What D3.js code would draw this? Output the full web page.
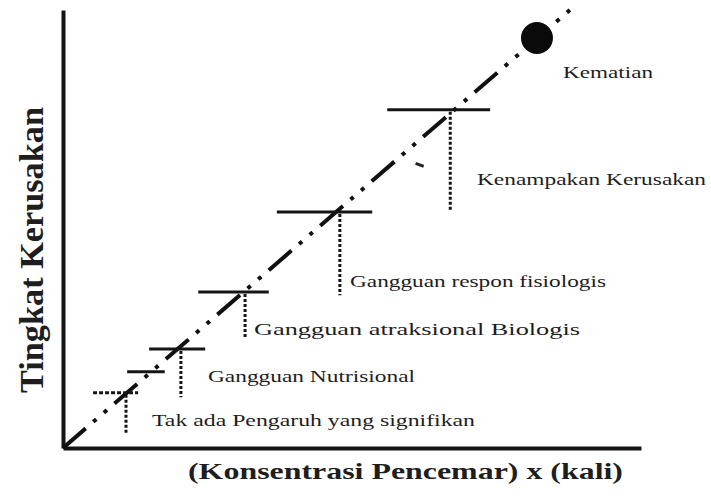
<!DOCTYPE html>
<html>
<head>
<meta charset="utf-8">
<script src="https://cdn.jsdelivr.net/npm/d3@7"></script>
<style>
  body { margin: 0; background: #fff; }
  text { font-family: "Liberation Serif", "Times New Roman", serif; fill: #1e1e1e; }
</style>
</head>
<body>
<div id="chart"></div>
<script>
// tahap respon terhadap konsentrasi pencemar (satuan relatif 0-100)
const stageNames = [
  "Tak ada Pengaruh yang signifikan",
  "Gangguan Nutrisional",
  "Gangguan atraksional Biologis",
  "Gangguan respon fisiologis",
  "Kenampakan Kerusakan",
  "Kematian"
]
const stageConc  = [10.9, 20.4, 31.5, 47.9, 67.0, 82.0]
const stageLevel = [12.6, 22.6, 35.6, 53.9, 77.2, 93.6]
const barFrom    = [5.2, 14.9, 23.4, 37.0, 56.1]
const barTo      = [13.0, 24.6, 35.6, 53.5, 73.9]
const dropTo     = [3.4, 11.6, 24.9, 34.9, 54.3]

// garis kecil tambahan di bawah tahap nutrisional
const extraBarLevel = [17.4]
const extraBarFrom  = [11.1]
const extraBarTo    = [17.6]

// coretan kecil di dekat tahap kerusakan
const markConc  = [61.0, 62.4]
const markLevel = [65.0, 64.3]

// garis tren (konsentrasi vs kerusakan)
const trendConc  = [0, 87.7]
const trendLevel = [0, 100]

const width = 711, height = 498

const svg = d3.select('#chart')
  .append('svg')
  .attr('width', width)
  .attr('height', height)

const x = d3.scaleLinear().domain([0, 100]).range([63, 641])
const y = d3.scaleLinear().domain([0, 100]).range([448, 10])

// sumbu tanpa tick
svg.append('g')
  .attr('transform', `translate(0,${y(0)})`)
  .call(d3.axisBottom(x).tickValues([]).tickSizeOuter(0))
  .select('.domain').attr('stroke', '#151515').attr('stroke-width', 4)

svg.append('g')
  .attr('transform', `translate(${x(0)},0)`)
  .call(d3.axisLeft(y).tickValues([]).tickSizeOuter(0))
  .select('.domain').attr('stroke', '#151515').attr('stroke-width', 4)

// garis tren: strip titik titik
const trend = d3.line()
  .x(d => x(d[0]))
  .y(d => y(d[1]))

svg.append('path')
  .datum(d3.zip(trendConc, trendLevel))
  .attr('d', trend)
  .attr('fill', 'none')
  .attr('stroke', '#111')
  .attr('stroke-width', 4)
  .attr('stroke-dasharray', '30,10,4,10,4,10')

svg.append('path')
  .datum(d3.zip(markConc, markLevel))
  .attr('d', trend)
  .attr('fill', 'none')
  .attr('stroke', '#222')
  .attr('stroke-width', 3)

// garis horizontal tiap tahap
svg.append('g')
  .selectAll('line')
  .data(barFrom.map((d, i) => ({from: d, to: barTo[i], level: stageLevel[i], i})))
  .enter()
  .append('line')
  .attr('x1', d => x(d.from))
  .attr('x2', d => x(d.to))
  .attr('y1', d => y(d.level))
  .attr('y2', d => y(d.level))
  .attr('stroke', '#151515')
  .attr('stroke-width', 3)
  .attr('stroke-dasharray', d => d.i === 0 ? '4,2' : null)

svg.append('g')
  .selectAll('line')
  .data(extraBarLevel.map((d, i) => ({level: d, from: extraBarFrom[i], to: extraBarTo[i]})))
  .enter()
  .append('line')
  .attr('x1', d => x(d.from))
  .attr('x2', d => x(d.to))
  .attr('y1', d => y(d.level))
  .attr('y2', d => y(d.level))
  .attr('stroke', '#151515')
  .attr('stroke-width', 3)

// garis titik vertikal
svg.append('g')
  .selectAll('line')
  .data(dropTo.map((d, i) => ({conc: stageConc[i], top: stageLevel[i], bottom: d})))
  .enter()
  .append('line')
  .attr('x1', d => x(d.conc))
  .attr('x2', d => x(d.conc))
  .attr('y1', d => y(d.top) + 2)
  .attr('y2', d => y(d.bottom))
  .attr('stroke', '#151515')
  .attr('stroke-width', 3)
  .attr('stroke-dasharray', '3,2')

// kematian
svg.append('circle')
  .attr('cx', x(stageConc[5]))
  .attr('cy', y(stageLevel[5]))
  .attr('r', 16)
  .attr('fill', '#0a0a0a')

// label tahap
const labelLayout = [
  {x: 152, y: 426, w: 323},
  {x: 208, y: 382, w: 207},
  {x: 254, y: 335, w: 326},
  {x: 350, y: 287, w: 256},
  {x: 477, y: 185, w: 229},
  {x: 563, y: 78,  w: 90}
]

svg.append('g')
  .selectAll('text')
  .data(stageNames)
  .enter()
  .append('text')
  .attr('x', (d, i) => labelLayout[i].x)
  .attr('y', (d, i) => labelLayout[i].y)
  .attr('font-size', 17)
  .attr('textLength', (d, i) => labelLayout[i].w)
  .attr('lengthAdjust', 'spacingAndGlyphs')
  .text(d => d)

// judul sumbu
svg.append('text')
  .attr('x', 188)
  .attr('y', 479)
  .attr('font-size', 24)
  .attr('font-weight', 'bold')
  .attr('textLength', 435)
  .attr('lengthAdjust', 'spacingAndGlyphs')
  .text('(Konsentrasi Pencemar)  x (kali)')

svg.append('text')
  .attr('transform', 'translate(43,393) rotate(-90)')
  .attr('font-size', 34)
  .attr('font-weight', 'bold')
  .attr('textLength', 286)
  .attr('lengthAdjust', 'spacingAndGlyphs')
  .text('Tingkat Kerusakan')
</script>
</body>
</html>
